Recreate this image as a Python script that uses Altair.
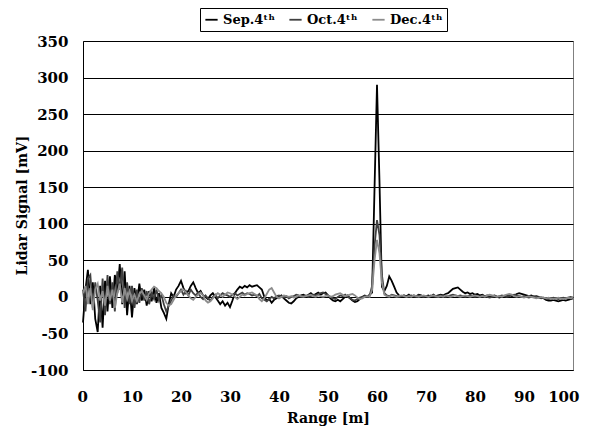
import altair as alt
import pandas as pd

# Range grid (m), 0.5 m step
range_m = [i * 0.5 for i in range(201)]

sep = [
    -35, 10, 37, -10, 20, -30, -48, 15, -42, 22, -20, 28, -15, 30, 5, 45, -10, 35, -25, 15,
    -28, 12, -10, 18, -5, 10, -12, 8, -6, 12, -8, 5, -15, -22, -30, -10, 5, 0, 10, 15,
    22, 12, 5, 8, 15, 20, 12, 5, 8, 2, 0, -3, 2, 5, 0, -5, -10, -6, -12, -8,
    -14, -5, 5, 10, 14, 12, 15, 13, 16, 14, 15, 16, 13, 10, 0, -5, -3, -8, -4, -2,
    0, 2, -2, -5, -8, -9, -6, -2, 0, 2, 3, 1, 3, 5, 2, 4, 6, 3, 5, 6,
    2, -2, -5, -6, -4, -6, -3, 0, 2, -2, -5, -7, -6, -3, 0, 2, 0, 3, 6, 150,
    290, 160, 14, 8, 15, 28, 22, 14, 6, 2, 0, 2, 1, 3, 0, 2, 1, 3, 2, 0,
    1, 2, 0, 3, 1, 2, 3, 2, 4, 5, 8, 11, 12, 13, 10, 7, 5, 6, 4, 5,
    3, 4, 2, 3, 1, 2, 0, 1, 2, 0, -1, 1, 0, 2, 3, 1, 2, 4, 5, 4,
    3, 2, 1, 2, 0, 1, 0, -1, -2, -4, -5, -5, -4, -5, -6, -5, -4, -5, -4, -3,
    -2,
]

oct_ = [
    10, -20, 25, 30, -15, 20, -5, -35, 25, -25, 30, -10, 20, -20, 35, 10, 40, -15, 20, -10,
    15, -15, 10, -8, 12, -5, 8, -10, 5, -3, 10, -5, 3, -10, -20, -12, -5, 2, 0, 5,
    10, 3, 8, 2, 10, 5, 2, 6, 0, -3, 2, -2, -5, 0, 3, -2, 2, 5, 3, 2,
    0, 3, 5, 2, 4, 6, 3, 5, 4, 2, 3, 1, 4, -2, -4, -6, -3, 0, -2, 1,
    2, 0, -1, 1, -2, 0, 1, 3, 2, 0, 1, 2, 0, 1, 3, 2, 4, 5, 6, 4,
    2, 0, -2, -3, 0, 2, 1, 3, 0, -2, -4, -5, -3, -1, 0, 1, 0, 2, 15, 70,
    105, 85, 30, 5, 2, 1, 3, 2, 1, 0, 1, 2, 0, 1, 2, 1, 0, 2, 1, 0,
    1, 0, 2, 1, 0, 1, 2, 1, 0, 1, 2, 3, 2, 1, 2, 1, 0, 1, 2, 1,
    0, 1, 0, 2, 1, 0, -1, 0, 1, 0, 1, 2, 1, 0, 1, 2, 3, 2, 1, 0,
    1, 0, -1, 0, 1, 0, -1, -2, -1, -2, -3, -2, -1, -2, -3, -2, -1, -2, -1, 0,
    -1,
]

dec = [
    5, 15, -10, 12, -18, 10, 18, -5, 8, -12, 15, -5, 10, -15, 5, 18, -8, 12, -3, 8,
    -5, 3, -6, 4, 8, 2, -4, 5, 10, 14, 12, 8, 5, 0, -8, -12, -10, -4, 2, 5,
    8, 10, 6, 2, -2, -4, 0, 3, 6, 2, -5, -8, -6, -2, 2, 5, 3, 0, 3, 6,
    5, 3, 0, -3, 0, 3, 2, 4, 5, 6, 4, 2, -3, -6, -2, 4, 10, 12, 6, 0,
    -2, 0, 2, 1, 0, 1, -1, 0, 2, 1, 0, 1, 2, 3, 1, 0, 2, 1, 0, 1,
    2, 0, 1, 3, 4, 5, 3, 1, 2, 3, 4, 2, -1, -3, -2, 0, 1, 0, 10, 50,
    78, 60, 20, 3, 1, 0, 2, 1, 0, 1, 2, 1, 0, 1, 0, 2, 1, 0, 1, 2,
    1, 0, 1, 2, 1, 0, 1, 0, 2, 1, 0, 1, 2, 1, 0, 1, 2, 1, 0, 1,
    2, 1, 0, 1, 0, 2, 3, 2, 1, 0, 1, 0, 2, 3, 4, 3, 1, 0, 1, 0,
    -1, 0, 1, 0, -1, -2, -1, 0, -1, -2, -1, -2, -3, -2, -1, -2, -3, -2, -1, -2,
    -1,
]

series_names = ["Sep.4ᵗʰ", "Oct.4ᵗʰ", "Dec.4ᵗʰ"]
series_colors = ["#000000", "#404040", "#8c8c8c"]

rows = []
for name, vals in zip(series_names, [sep, oct_, dec]):
    for r, v in zip(range_m, vals):
        rows.append({"Range": r, "Signal": v, "Series": name})
df = pd.DataFrame(rows)

FONT = "DejaVu Serif"

chart = alt.Chart(df).mark_line(strokeWidth=1.8).encode(
    x=alt.X("Range:Q",
            scale=alt.Scale(domain=[0, 100], nice=False),
            axis=alt.Axis(values=list(range(0, 101, 10)), grid=False, ticks=False,
                          title="Range [m]", labelPadding=19, titleY=48,
                          titleBaseline="middle", domainColor="#000000",
                          labelFlush=True, labelFlushOffset=6, labelOverlap=False,
                          labelExpr="'' + datum.value")),
    y=alt.Y("Signal:Q",
            scale=alt.Scale(domain=[-100, 350], nice=False),
            axis=alt.Axis(values=list(range(-100, 351, 50)), grid=True, ticks=False,
                          gridColor="#000000", gridOpacity=1, gridWidth=1,
                          title="Lidar Signal [mV]", labelPadding=15,
                          titleX=-61, titleY=164, titleAngle=-90,
                          titleAlign="center", titleBaseline="middle",
                          domainColor="#000000", labelFlush=False, labelOverlap=False,
                          labelExpr="'' + datum.value")),
    color=alt.Color("Series:N",
                    scale=alt.Scale(domain=series_names, range=series_colors),
                    sort=series_names,
                    legend=alt.Legend(title=None, orient="none", legendX=117, legendY=-33,
                                      direction="horizontal", symbolType="stroke",
                                      symbolStrokeWidth=1.8, symbolSize=150,
                                      strokeColor="#000000", padding=4,
                                      columnPadding=10, labelFontSize=13,
                                      labelFont=FONT, labelFontWeight="bold",
                                      labelColor="#000000")),
    detail="Series:N",
    order=alt.Order("Range:Q"),
).properties(
    width=490, height=329,
    autosize=alt.AutoSizeParams(type="none"),
    padding={"left": 75, "top": 33, "right": 8, "bottom": 62},
).configure_axis(
    labelFont=FONT, labelFontSize=15, labelFontWeight="bold", labelColor="#000000",
    titleFont=FONT, titleFontSize=14, titleFontWeight="bold", titleColor="#000000",
).configure_view(
    stroke="#808080", strokeWidth=1,
)

chart.save("out.html", embed_options={"renderer": "svg", "actions": False})
